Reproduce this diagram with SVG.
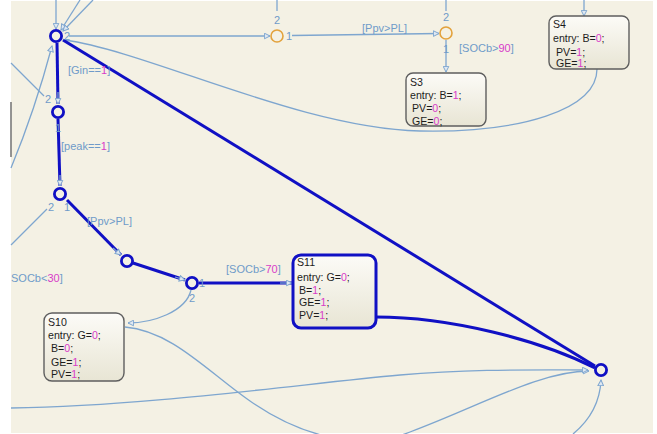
<svg xmlns="http://www.w3.org/2000/svg" width="657" height="434" viewBox="0 0 657 434">
  <defs>
    <linearGradient id="stateFill" x1="0" y1="0" x2="0" y2="1">
      <stop offset="0" stop-color="#fcfbf7"/>
      <stop offset="1" stop-color="#e8e5d4"/>
    </linearGradient>
    <marker id="arr" viewBox="0 0 10 10" refX="9" refY="5" markerWidth="7" markerHeight="7" markerUnits="userSpaceOnUse" orient="auto">
      <path d="M1,1 L9,5 L1,9 Z" fill="#dfe8f2" stroke="#7ea6cf" stroke-width="1.4"/>
    </marker>
  </defs>
  <style>
    .bg { fill: #f4f1e4; }
    .wire { fill: none; stroke: #7ea6cf; stroke-width: 1.3; }
    .hot { fill: none; stroke: #1010c4; stroke-width: 3; }
    .jn { fill: none; stroke: #1010c4; stroke-width: 2.8; }
    .jo { fill: none; stroke: #e3a23c; stroke-width: 1.6; }
    .state { fill: url(#stateFill); stroke: #5e5e5e; stroke-width: 1.4; }
    .active { fill: url(#stateFill); stroke: #1010c4; stroke-width: 3; }
    text { font-family: "Liberation Sans", Arial, sans-serif; }
    .lbl { font-size: 11px; fill: #6f9bc9; }
    .st { font-size: 10.6px; fill: #1c1c1c; }
    .num { fill: #d83cc8; }
  </style>

  <!-- canvas -->
  <rect x="0" y="0" width="657" height="434" fill="#ffffff"/>
  <rect class="bg" x="11" y="1" width="642" height="432"/>
  <line x1="11" y1="102" x2="11" y2="157" stroke="#7a7a7a" stroke-width="1.6"/>

  <!-- transitions -->
  <g id="connectors">
    <!-- incoming from above into the top junction -->
    <line class="wire" x1="56" y1="0" x2="56" y2="29" marker-end="url(#arr)"/>
    <line class="wire" x1="80" y1="0" x2="61" y2="30" marker-end="url(#arr)"/>
    <line class="wire" x1="93" y1="0" x2="63" y2="31" marker-end="url(#arr)"/>
    <!-- top junction to orange junction -->
    <line class="wire" x1="69" y1="36" x2="270" y2="36" marker-end="url(#arr)"/>
    <line class="wire" x1="277" y1="0" x2="277" y2="11"/>
    <line class="wire" x1="292" y1="35.5" x2="439" y2="33.5" marker-end="url(#arr)"/>
    <line class="wire" x1="446" y1="0" x2="446" y2="11"/>
    <line class="wire" x1="446" y1="40" x2="446" y2="72" marker-end="url(#arr)"/>
    <line class="wire" x1="584" y1="0" x2="584" y2="16" marker-end="url(#arr)"/>
    <!-- S4 back to the top junction -->
    <path class="wire" d="M65,40 C150,52 300,128 420,131 C520,133 597,110 597,69"/>
    <!-- left side wires -->
    <path class="wire" d="M11,168 Q35,110 52,46" marker-end="url(#arr)"/>
    <line class="wire" x1="11" y1="63" x2="44" y2="96"/>
    <line class="wire" x1="47" y1="209" x2="11" y2="245"/>
    <!-- E junction to S10 -->
    <path class="wire" d="M191,290 C186,312 152,323 128,323" marker-end="url(#arr)"/>
    <!-- S10 around the bottom to F -->
    <path class="wire" d="M125,327 C172,331 208,372 250,401 C300,436 360,452 410,432 C480,406 540,371 589,371" marker-end="url(#arr)"/>
    <!-- long wire from the left into F -->
    <path class="wire" d="M11,408 C150,406 300,384 400,375 C470,369 530,370 588,370" marker-end="url(#arr)"/>
    <!-- from below into F -->
    <path class="wire" d="M573,434 C590,420 600,402 601,380" marker-end="url(#arr)"/>

    <!-- active path -->
    <line class="hot" x1="57" y1="43" x2="58" y2="104"/>
    <line class="hot" x1="58" y1="119" x2="60" y2="186"/>
    <line class="hot" x1="67" y1="200" x2="121" y2="255"/>
    <line class="hot" x1="133" y1="263" x2="185" y2="280"/>
    <line class="hot" x1="199" y1="283" x2="292" y2="283"/>
    <line class="hot" x1="63" y1="40" x2="595" y2="366"/>
    <path class="hot" d="M376,317 C450,317 540,340 595,368"/>
    <!-- arrowheads on the active path -->
    <line class="wire" x1="58" y1="92" x2="58" y2="104" marker-end="url(#arr)" stroke="none"/>
    <line class="wire" x1="60" y1="175" x2="60" y2="186" marker-end="url(#arr)" stroke="none"/>
    <line class="wire" x1="113" y1="248" x2="121" y2="255" marker-end="url(#arr)" stroke="none"/>
    <line class="wire" x1="175" y1="277" x2="185" y2="280" marker-end="url(#arr)" stroke="none"/>
    <line class="wire" x1="280" y1="283" x2="292" y2="283" marker-end="url(#arr)" stroke="none"/>
  </g>

  <!-- junctions -->
  <g id="junctionA"><circle class="jn" cx="56" cy="36" r="5.6"/></g>
  <g id="junctionB"><circle class="jn" cx="58" cy="112" r="5.6"/></g>
  <g id="junctionC"><circle class="jn" cx="60" cy="194" r="5.6"/></g>
  <g id="junctionD"><circle class="jn" cx="127" cy="261" r="5.6"/></g>
  <g id="junctionE"><circle class="jn" cx="192" cy="283" r="5.6"/></g>
  <g id="junctionF"><circle class="jn" cx="601" cy="370" r="5.6"/></g>
  <g id="junctionO1"><circle class="jo" cx="277" cy="36" r="6"/></g>
  <g id="junctionO2"><circle class="jo" cx="446" cy="33" r="6"/></g>

  <!-- transition labels -->
  <g id="labels" class="lbl">
    <text x="64" y="40">2</text>
    <text x="68" y="74">[Gin==<tspan class="num">1</tspan>]</text>
    <text x="45" y="103">2</text>
    <text x="55" y="132">1</text>
    <text x="61" y="150">[peak==<tspan class="num">1</tspan>]</text>
    <text x="48" y="211">2</text>
    <text x="64" y="211">1</text>
    <text x="87" y="225">[Ppv&gt;PL]</text>
    <text x="11" y="282">SOCb&lt;<tspan class="num">30</tspan>]</text>
    <text x="199" y="287">1</text>
    <text x="189" y="302">2</text>
    <text x="226" y="273">[SOCb&gt;<tspan class="num">70</tspan>]</text>
    <text x="274" y="24">2</text>
    <text x="286" y="40">1</text>
    <text x="362" y="32">[Ppv&gt;PL]</text>
    <text x="443" y="21">2</text>
    <text x="443" y="53">1</text>
    <text x="459" y="52">[SOCb&gt;<tspan class="num">90</tspan>]</text>
  </g>

  <!-- states -->
  <g id="S3">
    <rect class="state" x="406" y="73" width="80" height="53" rx="7"/>
    <text class="st" x="410" y="86">S3</text>
    <text class="st" x="410" y="99">entry: B=<tspan class="num">1</tspan>;</text>
    <text class="st" x="412" y="112">PV=<tspan class="num">0</tspan>;</text>
    <text class="st" x="412" y="125">GE=<tspan class="num">0</tspan>;</text>
  </g>
  <g id="S4">
    <rect class="state" x="549" y="16" width="80" height="53" rx="7"/>
    <text class="st" x="553" y="28">S4</text>
    <text class="st" x="553" y="42">entry: B=<tspan class="num">0</tspan>;</text>
    <text class="st" x="556" y="56">PV=<tspan class="num">1</tspan>;</text>
    <text class="st" x="556" y="67">GE=<tspan class="num">1</tspan>;</text>
  </g>
  <g id="S11">
    <rect class="active" x="293" y="255" width="83" height="73" rx="8"/>
    <text class="st" x="297" y="266">S11</text>
    <text class="st" x="297" y="281">entry: G=<tspan class="num">0</tspan>;</text>
    <text class="st" x="299" y="294">B=<tspan class="num">1</tspan>;</text>
    <text class="st" x="299" y="306">GE=<tspan class="num">1</tspan>;</text>
    <text class="st" x="299" y="319">PV=<tspan class="num">1</tspan>;</text>
  </g>
  <g id="S10">
    <rect class="state" x="44" y="313" width="80" height="68" rx="8"/>
    <text class="st" x="48" y="326">S10</text>
    <text class="st" x="48" y="339">entry: G=<tspan class="num">0</tspan>;</text>
    <text class="st" x="51" y="352">B=<tspan class="num">0</tspan>;</text>
    <text class="st" x="51" y="366">GE=<tspan class="num">1</tspan>;</text>
    <text class="st" x="51" y="378">PV=<tspan class="num">1</tspan>;</text>
  </g>
</svg>
